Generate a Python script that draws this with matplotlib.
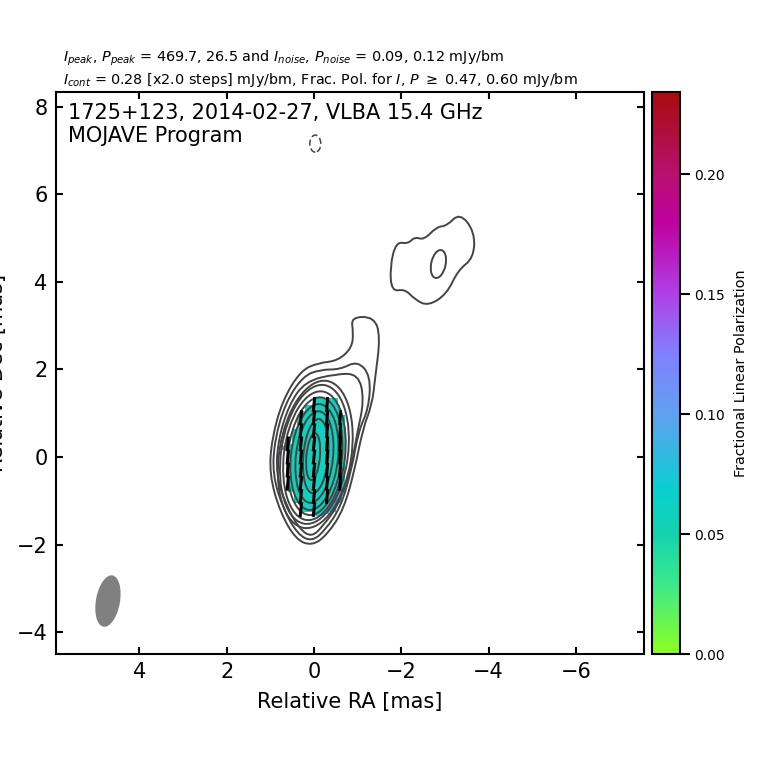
import numpy as np
import matplotlib
matplotlib.use('Agg')
import matplotlib.pyplot as plt
from matplotlib.colors import LinearSegmentedColormap, Normalize
from matplotlib.cm import ScalarMappable
from matplotlib.patches import Ellipse, PathPatch
from matplotlib.path import Path

# outer total intensity contours, control points (RA, Dec) in mas
contour_1 = [(-0.87, 2.50), (-0.90, 2.85), (-0.85, 3.20), (-1.38, 3.20), (-1.52, 2.75), (-1.40, 1.80),
             (-1.33, 1.20), (-1.12, 0.65), (-0.93, -0.30), (-0.68, -1.20), (-0.30, -1.78), (0.05, -2.03),
             (0.42, -1.88), (0.78, -1.25), (1.02, -0.40), (0.97, 0.40), (0.72, 1.30), (0.30, 1.98),
             (-0.10, 2.15), (-0.55, 2.20)]
contour_2 = [(-1.00, 2.20), (-1.30, 1.85), (-1.25, 1.10), (-1.02, 0.60), (-0.86, -0.30), (-0.61, -1.15),
             (-0.25, -1.68), (0.05, -1.93), (0.37, -1.77), (0.70, -1.20), (0.95, -0.40), (0.90, 0.40),
             (0.65, 1.25), (0.25, 1.85), (-0.15, 2.00), (-0.60, 2.00)]
contour_3 = [(-0.50, 1.90), (-1.02, 1.90), (-1.15, 1.30), (-0.99, 0.55), (-0.84, -0.30), (-0.56, -1.10),
             (-0.20, -1.58), (0.05, -1.83), (0.33, -1.65), (0.64, -1.10), (0.87, -0.40), (0.82, 0.40),
             (0.57, 1.20), (0.20, 1.73)]
blob_contour = [(-1.74, 4.34), (-1.88, 4.92), (-2.15, 4.87), (-2.31, 5.03), (-2.52, 4.96), (-2.81, 5.26),
                (-3.04, 5.28), (-3.34, 5.58), (-3.68, 5.15), (-3.66, 4.55), (-3.30, 4.27), (-3.04, 3.72),
                (-2.61, 3.45), (-2.31, 3.60), (-2.08, 3.84), (-1.78, 3.78)]

# inner contours as ellipses
inner_ra = [-0.03, -0.01, -0.01, -0.02, -0.01, -0.01, -0.04, 0.02]
inner_dec = [0.06, 0.06, 0.03, 0.02, 0.00, 0.00, 0.02, 0.01]
inner_minor = [1.65, 1.53, 1.40, 1.24, 1.08, 0.85, 0.57, 0.31]
inner_major = [3.40, 3.20, 2.96, 2.70, 2.43, 2.10, 1.70, 1.07]
inner_angle = [9, 8, 7, 6, 6, 6, 5, 5]

# fractional polarization blocks
pol_dec_top = [1.35, 1.20, 1.05, 0.95, 0.65, 0.30, -0.80, -1.05, -1.25]
pol_dec_bottom = [1.20, 1.05, 0.95, 0.65, 0.30, -0.80, -1.05, -1.25, -1.35]
pol_ra_left = [0.00, 0.20, 0.30, 0.40, 0.50, 0.60, 0.45, 0.30, 0.00]
pol_ra_right = [-0.55, -0.60, -0.65, -0.70, -0.70, -0.70, -0.65, -0.50, -0.25]
pol_value = 0.058

# higher polarization pixels at the edge of the patch
edge_ra = [-0.60, -0.60, -0.50, -0.50, -0.40, -0.30, 0.70]
edge_dec = [-0.60, -0.80, -0.90, -1.00, -1.15, -1.25, 0.20]
edge_value = [0.10, 0.13, 0.12, 0.14, 0.11, 0.09, 0.11]

# polarization ticks, one list of Dec per RA column
evpa_ra = [0.6, 0.3, 0.0, -0.3, -0.6]
evpa_dec = [[0.3, 0.0, -0.3, -0.6],
            [0.9, 0.6, 0.3, 0.0, -0.3, -0.6, -0.9, -1.2],
            [1.2, 0.9, 0.6, 0.3, 0.0, -0.3, -0.6, -0.9, -1.2],
            [1.2, 0.9, 0.6, 0.3, 0.0, -0.3, -0.6, -0.9],
            [0.9, 0.6, 0.3, 0.0, -0.3, -0.6]]
evpa_angle = [5, 6, 6, 5, 3]
evpa_length = 0.34

cbar_ticks = [0.00, 0.05, 0.10, 0.15, 0.20]
cbar_max = 0.2342

cmap_stops = [0.0, 0.03, 0.05, 0.068, 0.10, 0.125, 0.15, 0.18, 0.20, 0.2342]
cmap_colors = ['#8cff20', '#38e890', '#14d2b0', '#08d0d0', '#60a0f0', '#8080ff',
               '#b040e8', '#c000a0', '#b81070', '#a80c0c']

line_color = '#444444'


def smooth_closed(points):
    """
    Closed quadratic path through the midpoints of the control polygon.
    """
    pts = np.array(points)
    mids = (pts + np.roll(pts, -1, axis=0)) / 2
    verts = [mids[-1]]
    codes = [Path.MOVETO]
    for p, m in zip(pts, mids):
        verts += [p, m]
        codes += [Path.CURVE3, Path.CURVE3]
    return Path(verts, codes)


def main():
    fig = plt.figure(figsize=(7.6, 7.6), dpi=100)
    ax = fig.add_axes([56 / 760, 1 - 654 / 760, 588 / 760, 562 / 760])
    cax = fig.add_axes([652 / 760, 1 - 654 / 760, 28 / 760, 562 / 760])

    cmap = LinearSegmentedColormap.from_list('fracpol', [(s / cbar_max, c) for s, c in zip(cmap_stops, cmap_colors)])
    norm = Normalize(0, cbar_max)

    # polarization image
    ra_edges = np.arange(0.8, -0.85, -0.05)
    dec_edges = np.arange(-1.45, 1.5, 0.05)
    ra_c = (ra_edges[:-1] + ra_edges[1:]) / 2
    dec_c = (dec_edges[:-1] + dec_edges[1:]) / 2
    grid = np.full((len(dec_c), len(ra_c)), np.nan)
    for top, bot, left, right in zip(pol_dec_top, pol_dec_bottom, pol_ra_left, pol_ra_right):
        rows = (dec_c < top) & (dec_c > bot)
        cols = (ra_c < left) & (ra_c > right)
        grid[np.ix_(rows, cols)] = pol_value
    for r, d, v in zip(edge_ra, edge_dec, edge_value):
        i = np.abs(dec_c - d) < 0.06
        j = np.abs(ra_c - r) < 0.06
        grid[np.ix_(i, j)] = v
    ax.pcolormesh(ra_edges, dec_edges, np.ma.masked_invalid(grid), cmap=cmap, norm=norm, zorder=1)

    # contours
    for pts in [contour_1, contour_2, contour_3, blob_contour]:
        ax.add_patch(PathPatch(smooth_closed(pts), fill=False, ec=line_color, lw=1.4, zorder=2))
    for r, d, w, h, a in zip(inner_ra, inner_dec, inner_minor, inner_major, inner_angle):
        ax.add_patch(Ellipse((r, d), w, h, angle=a, fill=False, ec=line_color, lw=1.4, zorder=2))
    ax.add_patch(Ellipse((-2.85, 4.41), 0.33, 0.65, angle=12, fill=False, ec=line_color, lw=1.4, zorder=2))
    ax.add_patch(Ellipse((-0.03, 7.16), 0.25, 0.39, fill=False, ec=line_color, lw=1.1, ls=(0, (4, 2)), zorder=2))

    # polarization ticks
    for r, decs, a in zip(evpa_ra, evpa_dec, evpa_angle):
        dx = evpa_length / 2 * np.sin(np.radians(a))
        dy = evpa_length / 2 * np.cos(np.radians(a))
        for d in decs:
            ax.plot([r + dx, r - dx], [d - dy, d + dy], color='black', lw=2.2, solid_capstyle='butt', zorder=3)

    # beam
    ax.add_patch(Ellipse((4.72, -3.29), 0.55, 1.19, angle=10, fc='gray', ec='none', zorder=2))

    ax.set_xlim(5.91, -7.56)
    ax.set_ylim(-4.50, 8.34)
    ax.set_xticks([4, 2, 0, -2, -4, -6])
    ax.set_yticks([-4, -2, 0, 2, 4, 6, 8])
    ax.tick_params(direction='in', top=True, right=True, length=5, width=1.5, labelsize=15, pad=6)
    for s in ax.spines.values():
        s.set_linewidth(1.5)
    ax.set_xlabel('Relative RA [mas]', fontsize=15, labelpad=7)
    ax.set_ylabel('Relative Dec [mas]', fontsize=15)
    ax.yaxis.set_label_coords(-0.083, 0.5)

    ax.text(0.02, 0.98, '1725+123, 2014-02-27, VLBA 15.4 GHz\nMOJAVE Program', transform=ax.transAxes,
            fontsize=15, va='top', ha='left', linespacing=1.15)
    fig.text(63 / 760, 1 - 58 / 760, r'$I_{peak}$, $P_{peak}$ = 469.7, 26.5 and $I_{noise}$, $P_{noise}$ = 0.09, 0.12 mJy/bm',
             fontsize=10.4, va='center')
    fig.text(63 / 760, 1 - 80 / 760, r'$I_{cont}$ = 0.28 [x2.0 steps] mJy/bm, Frac. Pol. for $I$, $P$ $\geq$ 0.47, 0.60 mJy/bm',
             fontsize=10.4, va='center')

    cb = fig.colorbar(ScalarMappable(norm=norm, cmap=cmap), cax=cax, ticks=cbar_ticks)
    cb.ax.tick_params(labelsize=10, length=7, width=1.5)
    cb.ax.set_yticklabels(['%.2f' % t for t in cbar_ticks])
    cb.outline.set_linewidth(1.5)
    cb.set_label('Fractional Linear Polarization', fontsize=10.4, labelpad=6)

    fig.savefig('out.png', dpi=100)


if __name__ == "__main__":
    main()
